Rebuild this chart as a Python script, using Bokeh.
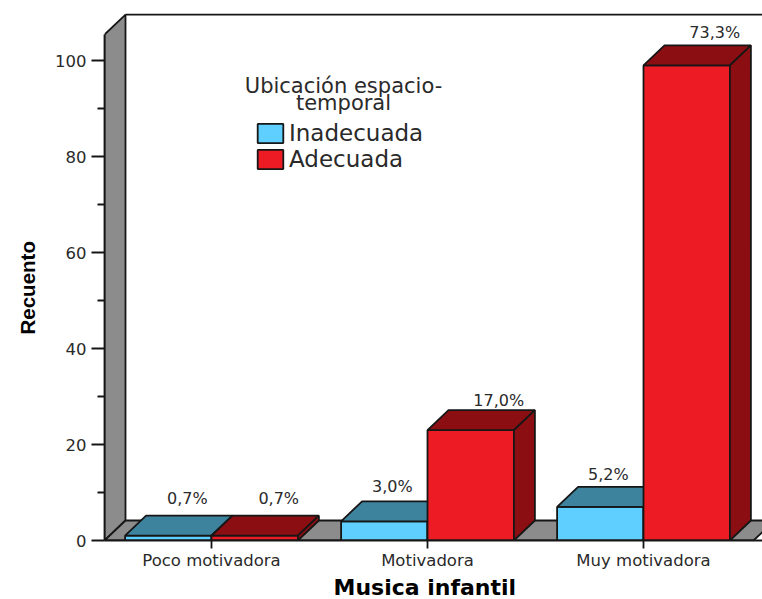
from bokeh.plotting import figure
from bokeh.models import ColumnDataSource, FixedTicker, Legend, LegendItem, Label, Range1d, Title
from bokeh.embed import file_html
from bokeh.resources import INLINE
from bokeh.core.properties import value

categories = ["Poco motivadora", "Motivadora", "Muy motivadora"]
inadecuada = [1, 4, 7]
adecuada = [1, 23, 99]
pct_inadecuada = ["0,7%", "3,0%", "5,2%"]
pct_adecuada = ["0,7%", "17,0%", "73,3%"]
y_ticks = [0, 20, 40, 60, 80, 100]
y_minor = [10, 30, 50, 70, 90]

BAR = 0.4
DX = 21 / 216
DY = 20 / 4.8
X0, X1 = -107 / 216, 551 / 216
XFLOOR = 542 / 216
YTOP = 530 / 4.8
AXTOP = 105.4
LINE = "#161616"
LW = 1.8
TXT = "#2a2a2a"
GRAY = "#8c8c8c"

p = figure(width=762, height=599, output_backend="svg", toolbar_location=None,
           x_range=Range1d(X0, X1), y_range=Range1d(0, YTOP),
           min_border_left=104, min_border_right=0, min_border_top=10, min_border_bottom=59)
p.outline_line_color = None
p.grid.visible = False

# walls
p.patch([X0, X0 + DX, X0 + DX, X0], [0, DY, AXTOP + DY, AXTOP], fill_color=GRAY, line_color=LINE, line_width=LW)
p.patch([X0, X0 + DX, XFLOOR + DX, XFLOOR], [0, DY, DY, 0], fill_color=GRAY, line_color=LINE, line_width=LW)
p.line([X0 + DX, X1], [AXTOP + DY, AXTOP + DY], line_color=LINE, line_width=LW)


def bars(vals, left_of, front, dark):
    xs = [i + left_of for i in range(len(vals))]
    src = ColumnDataSource(dict(left=xs, right=[x + BAR for x in xs], top=vals, bottom=[0] * len(vals)))
    r = p.quad(left="left", right="right", top="top", bottom="bottom", source=src,
               fill_color=front, line_color=LINE, line_width=LW)
    tx = [[x, x + DX, x + BAR + DX, x + BAR] for x in xs]
    ty = [[v, v + DY, v + DY, v] for v in vals]
    p.patches(tx, ty, fill_color=dark, line_color=LINE, line_width=LW)
    sx = [[x + BAR, x + BAR + DX, x + BAR + DX, x + BAR] for x in xs]
    sy = [[0, DY, v + DY, v] for v in vals]
    p.patches(sx, sy, fill_color=dark, line_color=LINE, line_width=LW)
    return r


r_blue = bars(inadecuada, -BAR, "#5fcfff", "#3d839e")
r_red = bars(adecuada, 0, "#ed1c24", "#8b0e12")

# value labels (pixel nudges relative to the bar's back top edge centre)
lx = [i - BAR / 2 + DX for i in range(3)] + [i + BAR / 2 + DX for i in range(3)]
ly = [v + DY for v in inadecuada] + [v + DY for v in adecuada]
lt = pct_inadecuada + pct_adecuada
src = ColumnDataSource(dict(x=lx, y=ly, t=lt,
                            xo=[-2, -13, -13, 3, 7, 7],
                            yo=[-17, -15, -12, -17, -10, -13]))
p.text("x", "y", text="t", source=src, x_offset="xo", y_offset="yo",
       text_font=value("DejaVu Sans"), text_font_size="16px", text_color=TXT,
       text_align="center", text_baseline="middle")

# axes
ya = p.yaxis[0]
ya.ticker = FixedTicker(ticks=y_ticks, minor_ticks=y_minor)
ya.bounds = (0, AXTOP)
ya.major_label_text_font = "DejaVu Sans"
ya.major_label_text_font_size = "16.5px"
ya.major_label_text_color = TXT
ya.major_label_standoff = 5
ya.major_tick_out = 13
ya.major_tick_in = 0
ya.minor_tick_out = 7
ya.minor_tick_in = 0
ya.axis_line_color = LINE
ya.axis_line_width = LW
ya.major_tick_line_color = LINE
ya.major_tick_line_width = LW
ya.minor_tick_line_color = LINE
ya.minor_tick_line_width = LW

xa = p.xaxis[0]
xa.ticker = FixedTicker(ticks=[0, 1, 2])
xa.major_label_overrides = {i: c for i, c in enumerate(categories)}
xa.major_label_text_font = "DejaVu Sans"
xa.major_label_text_font_size = "16.5px"
xa.major_label_text_color = TXT
xa.major_label_text_line_height = 1.0
xa.major_label_standoff = 2
xa.major_tick_out = 8
xa.major_tick_in = 0
xa.minor_tick_line_color = None
xa.axis_line_color = LINE
xa.axis_line_width = LW
xa.major_tick_line_color = LINE
xa.major_tick_line_width = LW

# axis titles
p.add_layout(Title(text="Recuento", align="left", offset=206, standoff=27,
                   text_font="Liberation Sans", text_font_size="20.5px", text_font_style="bold",
                   text_color="#000000", text_line_height=1.0), "left")
p.add_layout(Title(text="Musica infantil", align="left", offset=229, standoff=0,
                   text_font="DejaVu Sans", text_font_size="22px", text_font_style="bold",
                   text_color="#000000", text_line_height=1.0), "below")

# legend
legend = Legend(items=[LegendItem(label="Inadecuada", renderers=[r_blue]),
                       LegendItem(label="Adecuada", renderers=[r_red])],
                location=(150, 368), orientation="vertical",
                glyph_width=32, glyph_height=24, label_standoff=3, spacing=0, padding=0, margin=0,
                background_fill_alpha=0, border_line_color=None,
                label_text_font="DejaVu Sans", label_text_font_size="23px", label_text_color=TXT,
                label_height=26)
p.add_layout(legend)
for txt, yy in (("Ubicación espacio-", 455), ("temporal", 438)):
    p.add_layout(Label(x=239, y=yy, x_units="screen", y_units="screen", text=txt,
                       text_font="DejaVu Sans", text_font_size="21px", text_color=TXT,
                       text_align="center", text_baseline="middle"))

open("out.html", "w").write(file_html(p, INLINE))
